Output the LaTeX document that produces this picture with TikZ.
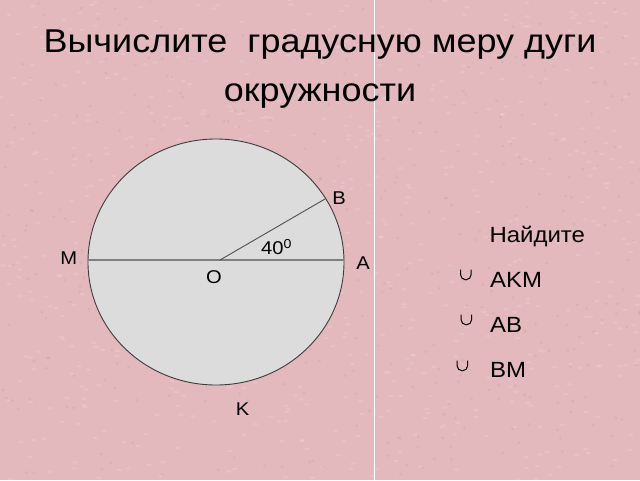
\documentclass[tikz,border=0pt]{standalone}
\usepackage{fontspec}
\setmainfont[FakeStretch=1.09]{Liberation Sans}
\usepackage{amssymb,amsmath}
\usetikzlibrary{positioning,calc}
\definecolor{pinkbg}{RGB}{227,185,190}
\definecolor{circfill}{RGB}{220,220,220}
\definecolor{circline}{RGB}{60,60,60}
\definecolor{diamline}{RGB}{128,128,128}

\begin{document}
\begin{tikzpicture}[
	x=1pt,y=-1pt,
	MyLabels/.style={inner sep=0pt,font=\fontsize{18.5}{20}\selectfont},
	FindText/.style={inner sep=0pt,anchor=base west,font=\fontsize{22}{24}\selectfont},
	ArcSign/.style={draw=black,line width=1pt},
	TitleText/.style={inner sep=0pt,anchor=base,font=\fontsize{33}{40}\selectfont}
	]
	\fill[pinkbg] (0,0) rectangle (640,480);
	\useasboundingbox (0,0) rectangle (640,480);
	% texture of the background
	\pgfmathsetseed{11}
	\foreach \p in {1,...,700}
	{ \fill[white,opacity=0.13] (320+320*rand,240+240*rand) ellipse (2.5 and 1.2);
	}
	\foreach \p in {1,...,400}
	{ \fill[black!60!pinkbg,opacity=0.08] (320+320*rand,240+240*rand) circle (1.5);
	}
	% seam of the background
	\draw[white,line width=1.2pt] (374.5,0) -- (374.5,480);
	
	\node[TitleText] (title1) at (320,52) {Вычислите\ \ градусную меру дуги};
	\node[TitleText] (title2) at (320,101) {окружности};
	
	% points of the circle
	\coordinate (C) at (216,262);
	\coordinate (O) at (220,260);
	\coordinate (A) at (344,260);
	\coordinate (M) at (88,260);
	\coordinate (B) at (325,199);
	
	\draw[fill=circfill,draw=circline,line width=0.9pt] (C) ellipse [x radius=128,y radius=123];
	\draw[diamline,line width=2pt] (M) -- (A);
	\draw[circline!90!white,line width=0.9pt] (O) -- (B);
	
	\node[MyLabels] (labB) at (339,198) {B};
	\node[MyLabels] (labM) at (68.7,258) {M};
	\node[MyLabels] (labA) at (363,263) {A};
	\node[MyLabels] (labO) at (214,277) {O};
	\node[MyLabels] (labK) at (242.5,409) {K};
	\node[MyLabels,anchor=base west] (angle) at (261,254.3) {40\textsuperscript{0}};
	
	\node[FindText] (find) at (489.3,242.3) {Найдите};
	\node[FindText] (arcAKM) at (490,287.7) {AKM};
	\node[FindText] (arcAB) at (490,332.3) {AB};
	\node[FindText] (arcBM) at (490,377.3) {BM};
	% arc signs
	\foreach \x/\y in {460.5/269.5, 461/314.5, 457/360.5}
	{ \draw[ArcSign] (\x,\y) -- ++(0,5) arc[start angle=180,end angle=360,x radius=5.35,y radius=-5.35] -- ++(0,-5);
	}
\end{tikzpicture}
\end{document}
